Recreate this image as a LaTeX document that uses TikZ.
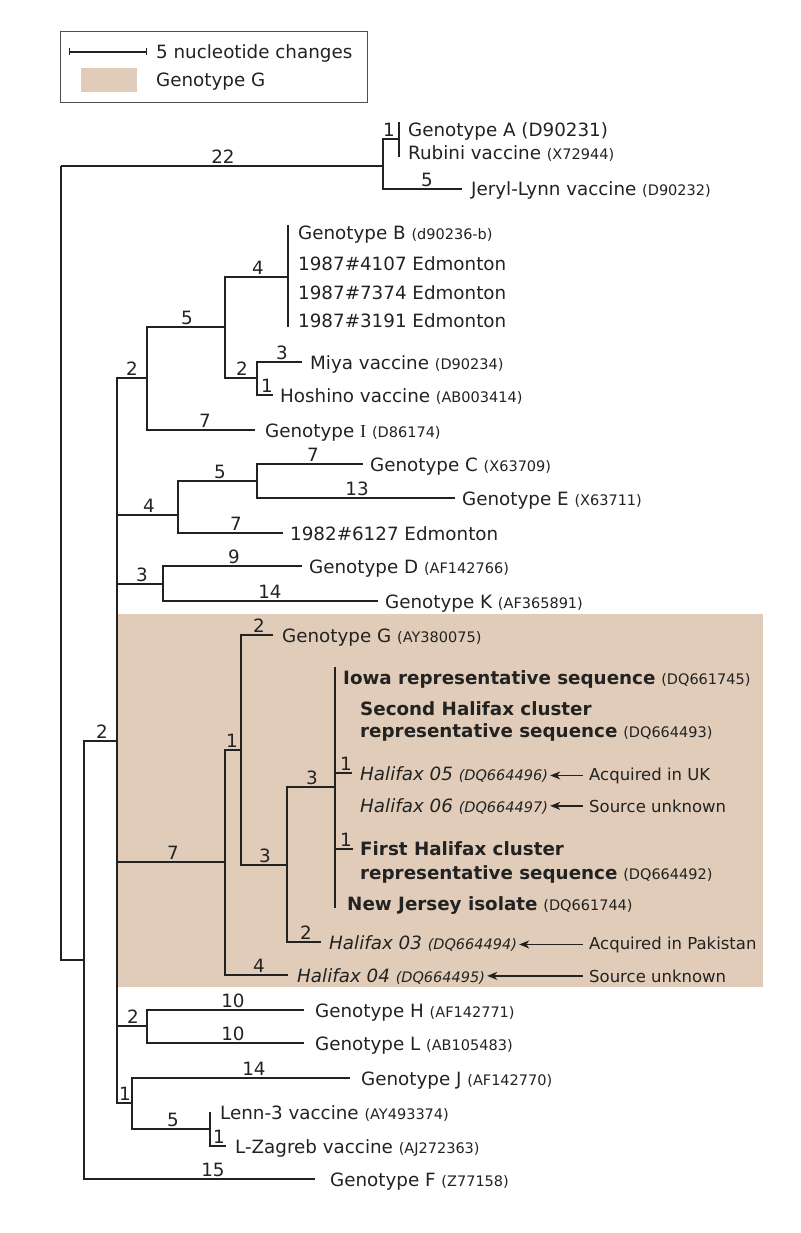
\documentclass[tikz,border=0pt]{standalone}
\usepackage{fontspec}
\setmainfont{DejaVu Sans}
\newfontfamily\serifI{Liberation Serif}
\usetikzlibrary{arrows.meta}
\definecolor{gshade}{RGB}{224,204,184}
\definecolor{ink}{RGB}{34,34,34}
\newcommand\fsM{\fontsize{18.3}{22}\selectfont}
\newcommand\fsS{\fontsize{14.5}{17}\selectfont}
\newcommand\fsN{\fontsize{16.5}{19}\selectfont}
\newcommand\acc[1]{{\fsS #1}}
\begin{document}
\begin{tikzpicture}[x=1pt,y=-1pt,
  br/.style={draw=ink, line width=1.4pt},
  tx/.style={anchor=base west, inner sep=0pt, font=\fsM, text=ink},
  lab/.style={anchor=south, inner sep=0pt, font=\fsM, text=ink},
  note/.style={anchor=base west, inner sep=0pt, font=\fsN, text=ink},
  ann/.style={draw=ink, line width=1.3pt, -{Stealth[length=10pt,width=8pt,inset=3pt]}, shorten >=2pt, shorten <=6pt}]
\useasboundingbox (0,0) rectangle (800,1233);
% shaded genotype G region
\fill[gshade] (117,614) rectangle (763,987);
% legend
\node (legend) [draw=ink!80, line width=1pt, anchor=north west, minimum width=307pt, minimum height=71pt, inner sep=0pt] at (60,31) {};
\coordinate (sbL) at (69,52);
\coordinate (sbR) at (147,52);
\draw[br, line width=1.1pt, {Bar[width=7pt]}-{Bar[width=7pt]}] (sbL) -- (sbR);
\node[tx] (sbtxt) at (156,59) {5 nucleotide changes};
\node (swatch) [fill=gshade, anchor=north west, minimum width=56pt, minimum height=24pt, inner sep=0pt] at (81,68) {};
\node[tx] (swtxt) at (156,87) {Genotype G};
% tree coordinates
\coordinate (R) at (61,166);
\coordinate (nA) at (383,166);
\coordinate (nAR) at (399,139);
\coordinate (tA) at (399,122);
\coordinate (tRub) at (399,157);
\coordinate (tJL) at (462,189);
\coordinate (n84) at (84,960);
\coordinate (n117) at (117,741);
\coordinate (tF) at (315,1179);
\coordinate (nBI) at (147,378);
\coordinate (nB5) at (225,327);
\coordinate (nB4) at (288,277);
\coordinate (tB1) at (288,225);
\coordinate (tB4) at (288,327);
\coordinate (nMH) at (257,378);
\coordinate (tMiya) at (302,362);
\coordinate (tHosh) at (273,395);
\coordinate (tI) at (255,430);
\coordinate (nCE) at (178,515);
\coordinate (nCE5) at (257,481);
\coordinate (tC) at (363,464);
\coordinate (tE) at (455,498);
\coordinate (t1982) at (283,533);
\coordinate (nDK) at (163,584);
\coordinate (tD) at (302,566);
\coordinate (tK) at (378,601);
\coordinate (nG7) at (225,862);
\coordinate (nG1) at (241,750);
\coordinate (tG) at (273,635);
\coordinate (nG3a) at (287,865);
\coordinate (nG3b) at (335,787);
\coordinate (tIowa) at (335,667);
\coordinate (tNJ) at (335,908);
\coordinate (t05) at (352,773);
\coordinate (tFirst) at (353,849);
\coordinate (t03) at (321,942);
\coordinate (t04) at (288,975);
\coordinate (nHL) at (147,1026);
\coordinate (tH) at (304,1010);
\coordinate (tL) at (304,1043);
\coordinate (nJL) at (132,1103);
\coordinate (tJ) at (350,1078);
\coordinate (nLZ) at (210,1129);
\coordinate (tLenn) at (210,1112);
\coordinate (tZag) at (226,1146);
% branches
\draw[br] (R) |- (nA);
\draw[br] (R) |- (n84);
\draw[br] (nA) |- (nAR);
\draw[br] (nA) |- (tJL);
\draw[br] (nAR) |- (tA);
\draw[br] (nAR) |- (tRub);
\draw[br] (n84) |- (n117);
\draw[br] (n84) |- (tF);
\draw[br] (n117) |- (nBI);
\draw[br] (n117) |- (nCE);
\draw[br] (n117) |- (nDK);
\draw[br] (n117) |- (nG7);
\draw[br] (n117) |- (nHL);
\draw[br] (n117) |- (nJL);
\draw[br] (nBI) |- (nB5);
\draw[br] (nBI) |- (tI);
\draw[br] (nB5) |- (nB4);
\draw[br] (nB5) |- (nMH);
\draw[br] (nB4) |- (tB1);
\draw[br] (nB4) |- (tB4);
\draw[br] (nMH) |- (tMiya);
\draw[br] (nMH) |- (tHosh);
\draw[br] (nCE) |- (nCE5);
\draw[br] (nCE) |- (t1982);
\draw[br] (nCE5) |- (tC);
\draw[br] (nCE5) |- (tE);
\draw[br] (nDK) |- (tD);
\draw[br] (nDK) |- (tK);
\draw[br] (nG7) |- (nG1);
\draw[br] (nG7) |- (t04);
\draw[br] (nG1) |- (tG);
\draw[br] (nG1) |- (nG3a);
\draw[br] (nG3a) |- (nG3b);
\draw[br] (nG3a) |- (t03);
\draw[br] (nG3b) |- (tIowa);
\draw[br] (nG3b) |- (tNJ);
\draw[br] (nG3b) |- (t05);
\draw[br] (nG3b) |- (tFirst);
\draw[br] (nHL) |- (tH);
\draw[br] (nHL) |- (tL);
\draw[br] (nJL) |- (tJ);
\draw[br] (nJL) |- (nLZ);
\draw[br] (nLZ) |- (tLenn);
\draw[br] (nLZ) |- (tZag);
% branch lengths
\node[lab] (l22) at (223,164) {22};
\node[lab] (lA1) at (389,137) {1};
\node[lab] (lJL) at (427,187) {5};
\node[lab] (lBI) at (132,376) {2};
\node[lab] (lB5) at (187,325) {5};
\node[lab] (lB4) at (258,275) {4};
\node[lab] (lMH) at (242,376) {2};
\node[lab] (lMiya) at (282,360) {3};
\node[lab] (lHosh) at (267,393) {1};
\node[lab] (lI) at (205,428) {7};
\node[lab] (lCE) at (149,513) {4};
\node[lab] (lCE5) at (220,479) {5};
\node[lab] (lC) at (313,462) {7};
\node[lab] (lE) at (357,496) {13};
\node[lab] (l1982) at (236,531) {7};
\node[lab] (lDK) at (142,582) {3};
\node[lab] (lD) at (234,564) {9};
\node[lab] (lK) at (270,599) {14};
\node[lab] (l117) at (102,739) {2};
\node[lab] (lG7) at (173,860) {7};
\node[lab] (lG1) at (232,748) {1};
\node[lab] (lG) at (259,633) {2};
\node[lab] (lG3a) at (265,863) {3};
\node[lab] (lG3b) at (312,785) {3};
\node[lab] (l05) at (346,771) {1};
\node[lab] (lFirst) at (346,847) {1};
\node[lab] (l03) at (306,940) {2};
\node[lab] (l04) at (259,973) {4};
\node[lab] (lHL) at (133,1024) {2};
\node[lab] (lH) at (233,1008) {10};
\node[lab] (lL) at (233,1041) {10};
\node[lab] (lJL1) at (125,1101) {1};
\node[lab] (lJ) at (254,1076) {14};
\node[lab] (lLZ) at (173,1127) {5};
\node[lab] (lZag) at (219,1144) {1};
\node[lab] (lF) at (213,1177) {15};
% taxa
\node[tx] (xA) at (408,137) {Genotype A (D90231)};
\node[tx] (xRub) at (408,160) {Rubini vaccine \acc{(X72944)}};
\node[tx] (xJL) at (471,196) {Jeryl-Lynn vaccine \acc{(D90232)}};
\node[tx] (xB) at (298,240) {Genotype B \acc{(d90236-b)}};
\node[tx] (xB2) at (298,270) {1987\#4107 Edmonton};
\node[tx] (xB3) at (298,299) {1987\#7374 Edmonton};
\node[tx] (xB4) at (298,327) {1987\#3191 Edmonton};
\node[tx] (xMiya) at (310,369) {Miya vaccine \acc{(D90234)}};
\node[tx] (xHosh) at (280,402) {Hoshino vaccine \acc{(AB003414)}};
\node[tx] (xI) at (265,437) {Genotype {\serifI I} \acc{(D86174)}};
\node[tx] (xC) at (370,471) {Genotype C \acc{(X63709)}};
\node[tx] (xE) at (462,505) {Genotype E \acc{(X63711)}};
\node[tx] (x1982) at (290,540) {1982\#6127 Edmonton};
\node[tx] (xD) at (309,573) {Genotype D \acc{(AF142766)}};
\node[tx] (xK) at (385,608) {Genotype K \acc{(AF365891)}};
\node[tx] (xG) at (282,642) {Genotype G \acc{(AY380075)}};
\node[tx] (xIowa) at (343,684) {\textbf{Iowa representative sequence} \acc{(DQ661745)}};
\node[tx] (xSec1) at (360,715) {\textbf{Second Halifax cluster}};
\node[tx] (xSec2) at (360,737) {\textbf{representative sequence} \acc{(DQ664493)}};
\node[tx] (x05) at (360,780) {\textit{Halifax 05} \acc{\textit{(DQ664496)}}};
\node[tx] (x06) at (360,812) {\textit{Halifax 06} \acc{\textit{(DQ664497)}}};
\node[tx] (xFir1) at (360,855) {\textbf{First Halifax cluster}};
\node[tx] (xFir2) at (360,879) {\textbf{representative sequence} \acc{(DQ664492)}};
\node[tx] (xNJ) at (347,910) {\textbf{New Jersey isolate} \acc{(DQ661744)}};
\node[tx] (x03) at (329,949) {\textit{Halifax 03} \acc{\textit{(DQ664494)}}};
\node[tx] (x04) at (297,982) {\textit{Halifax 04} \acc{\textit{(DQ664495)}}};
\node[tx] (xH) at (315,1017) {Genotype H \acc{(AF142771)}};
\node[tx] (xL) at (315,1050) {Genotype L \acc{(AB105483)}};
\node[tx] (xJ) at (361,1085) {Genotype J \acc{(AF142770)}};
\node[tx] (xLenn) at (220,1119) {Lenn-3 vaccine \acc{(AY493374)}};
\node[tx] (xZag) at (235,1153) {L-Zagreb vaccine \acc{(AJ272363)}};
\node[tx] (xF) at (330,1186) {Genotype F \acc{(Z77158)}};
% annotations
\node[note] (n05) at (589,780) {Acquired in UK};
\node[note] (n06) at (589,812) {Source unknown};
\node[note] (n03) at (589,949) {Acquired in Pakistan};
\node[note] (n04) at (589,982) {Source unknown};
\draw[ann] (n05.west) -- (n05.west -| x05.east);
\draw[ann] (n06.west) -- (n06.west -| x06.east);
\draw[ann] (n03.west) -- (n03.west -| x03.east);
\draw[ann] (n04.west) -- (n04.west -| x04.east);
\end{tikzpicture}
\end{document}
